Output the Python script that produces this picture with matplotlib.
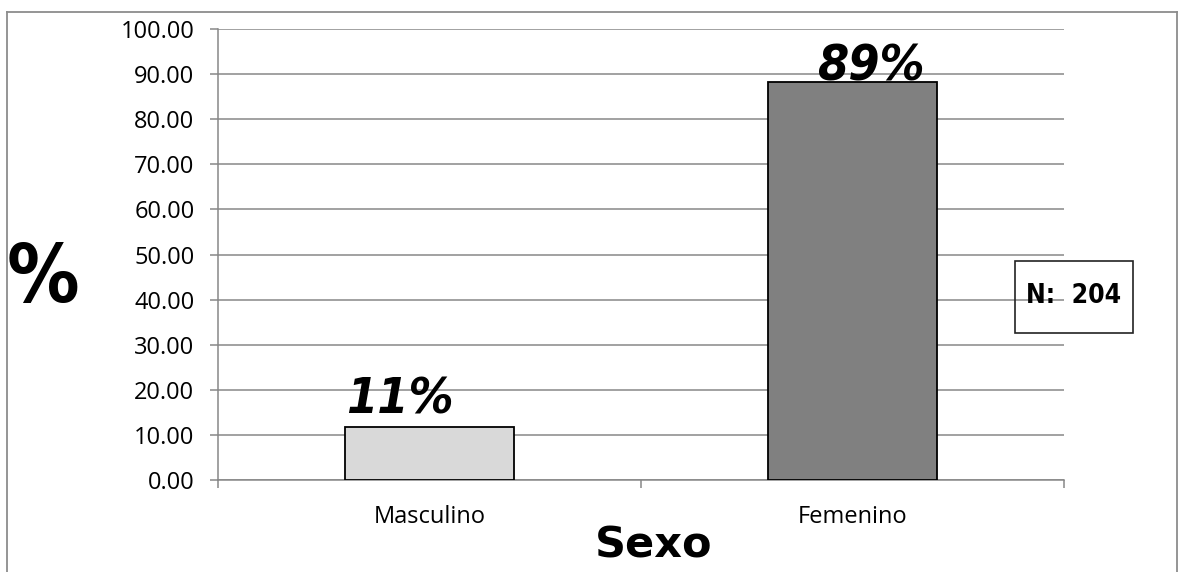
import matplotlib.pyplot as plt
from matplotlib.patches import Rectangle
from matplotlib.lines import Line2D

# --- data ---
categories = ["Masculino", "Femenino"]
values = [11.76, 88.24]
bar_labels = ["11%", "89%"]
bar_colors = ["#D9D9D9", "#808080"]
yticks = [0, 10, 20, 30, 40, 50, 60, 70, 80, 90, 100]
n_total = 204

GRID = "#878787"
TICKFONT = ["Open Sans", "DejaVu Sans"]

fig = plt.figure(figsize=(11.8, 5.72), dpi=100)
ax = fig.add_axes([218 / 1180, 1 - 480 / 572, (1064 - 218) / 1180, (480 - 29) / 572])

x = range(len(categories))
ax.bar(x, values, width=0.4, color=bar_colors, edgecolor="black",
       linewidth=1.3, zorder=3)

ax.set_xlim(-0.5, 1.5)
ax.set_ylim(0, 100)
ax.set_yticks(yticks)
ax.set_yticklabels([f"{v:.2f}" for v in yticks])
ax.yaxis.grid(True, color=GRID, linewidth=1.1, zorder=0)
ax.set_axisbelow(True)

# category labels centred, ticks on category boundaries
ax.set_xticks([-0.5, 0.5, 1.5])
ax.set_xticklabels([])
ax.set_xticks(list(x), minor=True)
ax.set_xticklabels(categories, minor=True, fontsize=17, family=TICKFONT)
ax.tick_params(axis="x", which="minor", length=0, pad=18)
ax.tick_params(axis="x", which="major", length=6, color=GRID, width=1.1)
ax.tick_params(axis="y", length=6, color=GRID, width=1.1, pad=11)
for t in ax.get_yticklabels():
    t.set_fontsize(17)
    t.set_family(TICKFONT)

for side in ["top", "right"]:
    ax.spines[side].set_visible(False)
for side in ["left", "bottom"]:
    ax.spines[side].set_color(GRID)
    ax.spines[side].set_linewidth(1.1)

# value labels above the bars (hand-placed like the original)
offsets = [(-21, 10), (13, 1)]
for xi, v, lab, off in zip(x, values, bar_labels, offsets):
    ax.annotate(lab, (xi, v), xytext=off, textcoords="offset points",
                ha="center", va="baseline", fontsize=36, family="DejaVu Sans",
                stretch="condensed", weight="bold", style="italic", zorder=4)

# axis titles
fig.text(43 / 1180, 1 - 280 / 572, "%", ha="center", va="center",
         fontsize=58, family="DejaVu Sans", stretch="condensed", weight="bold")
fig.text(654 / 1180, 1 - 545 / 572, "Sexo", ha="center", va="center",
         fontsize=31, family="DejaVu Sans", weight="bold")

# N box
fig.add_artist(Rectangle((1015 / 1180, 1 - 333 / 572), 118 / 1180, 72 / 572,
                         transform=fig.transFigure, fill=False,
                         edgecolor="#222222", linewidth=1.2))
fig.text(1026 / 1180, 1 - 296 / 572, f"N:  {n_total}", ha="left", va="center",
         fontsize=19, family="DejaVu Sans", stretch="condensed", weight="bold")

# outer chart frame (bottom edge falls outside the image)
frame = dict(color="#8C8C8C", linewidth=1.3, transform=fig.transFigure)
fig.add_artist(Line2D([7 / 1180, 7 / 1180], [0, 1 - 12 / 572], **frame))
fig.add_artist(Line2D([7 / 1180, 1177 / 1180], [1 - 12 / 572, 1 - 12 / 572], **frame))
fig.add_artist(Line2D([1177 / 1180, 1177 / 1180], [0, 1 - 12 / 572], **frame))

fig.savefig("out.png", dpi=100)
